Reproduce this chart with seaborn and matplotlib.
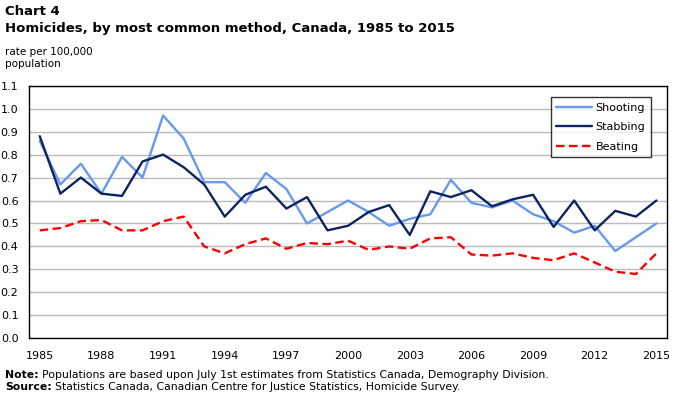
import matplotlib
matplotlib.use("Agg")
import matplotlib.pyplot as plt
import seaborn as sns
import pandas as pd
import numpy as np
from matplotlib.ticker import FixedLocator

years = list(range(1985, 2016))
shooting = [0.86, 0.67, 0.76, 0.63, 0.79, 0.70, 0.97, 0.87, 0.68, 0.68,
            0.59, 0.72, 0.65, 0.50, 0.55, 0.60, 0.55, 0.49, 0.52, 0.54,
            0.69, 0.59, 0.57, 0.60, 0.54, 0.51, 0.46, 0.49, 0.38, 0.44, 0.50]
stabbing = [0.88, 0.63, 0.70, 0.63, 0.62, 0.77, 0.80, 0.745, 0.67, 0.53,
            0.625, 0.66, 0.565, 0.615, 0.47, 0.49, 0.55, 0.58, 0.45, 0.64,
            0.615, 0.645, 0.575, 0.605, 0.625, 0.485, 0.60, 0.47, 0.555, 0.53, 0.60]
beating = [0.47, 0.48, 0.51, 0.515, 0.47, 0.47, 0.51, 0.53, 0.40, 0.37,
           0.41, 0.435, 0.39, 0.415, 0.41, 0.425, 0.385, 0.40, 0.39, 0.435,
           0.44, 0.365, 0.36, 0.37, 0.35, 0.34, 0.37, 0.33, 0.29, 0.28, 0.37]
series_names = ["Shooting", "Stabbing", "Beating"]
colors = {"Shooting": "#6699F0", "Stabbing": "#0C2461", "Beating": "#FF0000"}
yticks = [round(0.1 * i, 1) for i in range(12)]

df = pd.DataFrame({
    "year": years * 3,
    "rate": shooting + stabbing + beating,
    "method": [n for n in series_names for _ in years],
})

sns.set_style("white")
plt.rcParams["font.family"] = ["DejaVu Sans"]
plt.rcParams["text.color"] = "black"

fig = plt.figure(figsize=(6.78, 3.97), dpi=100)
ax = fig.add_axes([0.0435, 0.1479, 0.9398, 0.6362])

sns.lineplot(data=df, x="year", y="rate", hue="method", style="method",
             palette=colors, dashes={"Shooting": "", "Stabbing": "", "Beating": (3.6, 1.9)},
             hue_order=series_names, style_order=series_names,
             linewidth=1.7, ax=ax, legend=True)

ax.set_xlim(1984.5, 2015.5)
ax.set_ylim(0, 1.1)
ax.set_yticks(yticks)
ax.set_yticklabels([f"{v:.1f}" for v in yticks])
ax.set_xticks(years[::3])
ax.xaxis.set_minor_locator(FixedLocator([y + 0.5 for y in years[:-1]]))
ax.grid(axis="y", color="#BBBBBB", linewidth=1)
ax.set_axisbelow(True)
for s in ax.spines.values():
    s.set_color("black")
    s.set_linewidth(1)
ax.tick_params(axis="x", which="major", length=0, labelsize=8, pad=9, colors="black")
ax.tick_params(axis="x", which="minor", direction="in", length=4, width=0.8, color="black")
ax.tick_params(axis="y", length=0, labelsize=8, pad=8, colors="black")
ax.set_xlabel("")
ax.set_ylabel("")

leg = ax.legend(loc="upper right", bbox_to_anchor=(0.9754, 0.955), borderaxespad=0,
                frameon=True, fancybox=False, edgecolor="black", fontsize=8,
                handlelength=3.2, labelspacing=0.85, borderpad=0.5, handletextpad=0.35)
leg.get_frame().set_linewidth(1)
for line in leg.get_lines():
    line.set_linewidth(1.7)

fig.text(0.008, 0.970, "Chart 4", fontsize=9.5, fontweight="bold", va="center", ha="left")
fig.text(0.008, 0.929, "Homicides, by most common method, Canada, 1985 to 2015",
         fontsize=9.5, fontweight="bold", va="center", ha="left")
fig.text(0.008, 0.870, "rate per 100,000", fontsize=7.5, va="center", ha="left")
fig.text(0.008, 0.840, "population", fontsize=7.5, va="center", ha="left")

renderer = fig.canvas.get_renderer()

def note_line(y, bold, rest):
    t = fig.text(0.008, y, bold, fontsize=7.8, fontweight="bold", va="center", ha="left")
    bb = t.get_window_extent(renderer=renderer)
    x1 = bb.x1 / fig.bbox.width + 0.004
    fig.text(x1, y, rest, fontsize=7.8, va="center", ha="left")

note_line(0.055, "Note:", "Populations are based upon July 1st estimates from Statistics Canada, Demography Division.")
note_line(0.025, "Source:", "Statistics Canada, Canadian Centre for Justice Statistics, Homicide Survey.")

fig.savefig("out.png", dpi=100)
